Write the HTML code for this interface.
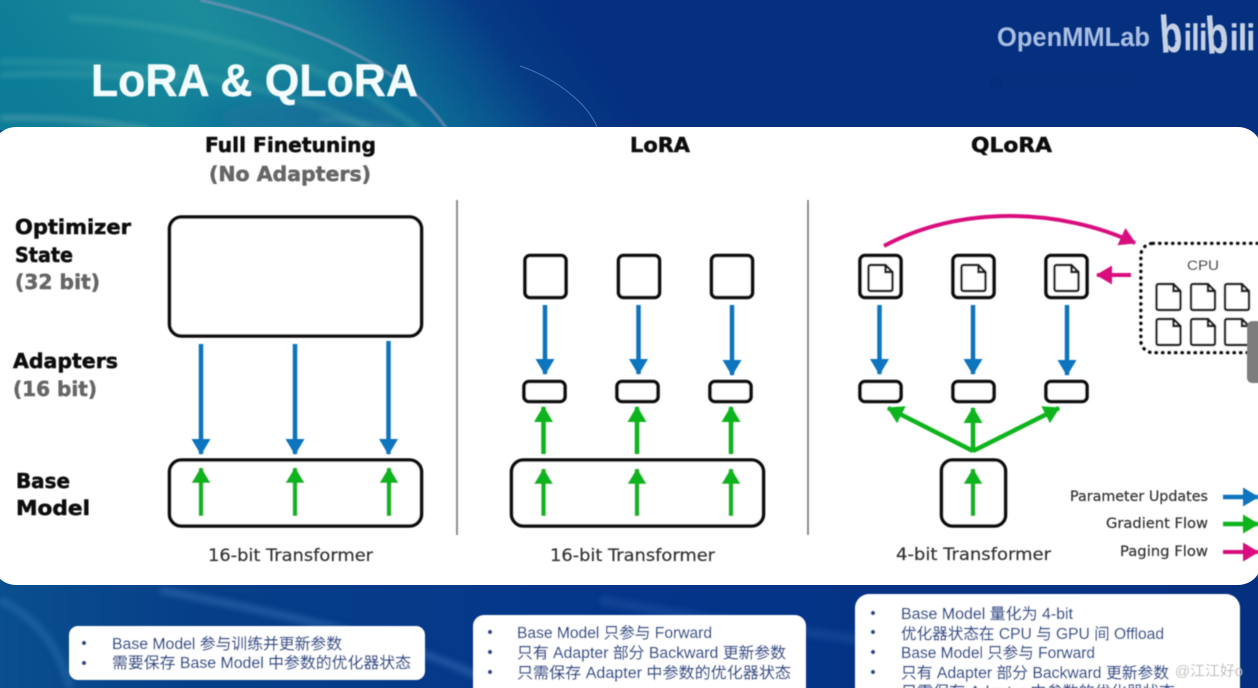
<!DOCTYPE html>
<html><head><meta charset="utf-8"><style>
html,body{margin:0;padding:0;width:1258px;height:688px;overflow:hidden;background:#04307f}
svg{display:block}
text{font-family:"Liberation Sans","Noto Sans CJK SC",sans-serif}
.h{font-family:"DejaVu Sans",sans-serif;font-weight:700;stroke-width:.5px}
.k{fill:#111;stroke:#111}
.g{fill:#666;stroke:#666}
.l{font-family:"DejaVu Sans",sans-serif;fill:#333;stroke:#333;stroke-width:.2px}
.b{fill:#23468a;stroke:#23468a;stroke-width:.15px;font-size:15.5px}
</style></head><body>
<svg width="1258" height="688" viewBox="0 0 1258 688" xmlns="http://www.w3.org/2000/svg">
<defs>
<linearGradient id="bg" gradientUnits="userSpaceOnUse" x1="0" y1="60" x2="500" y2="-300">
<stop offset="0" stop-color="#0c7c98"/><stop offset=".3" stop-color="#1c8c9b"/><stop offset=".47" stop-color="#137a97"/><stop offset=".58" stop-color="#0a5a90"/><stop offset=".68" stop-color="#063a85"/><stop offset=".78" stop-color="#04307f"/><stop offset="1" stop-color="#04307f"/>
</linearGradient>
<linearGradient id="bg2" x1="0" y1="0" x2="1" y2="0">
<stop offset="0" stop-color="#0a4f8f"/><stop offset=".15" stop-color="#063f88"/><stop offset=".5" stop-color="#04358a"/><stop offset="1" stop-color="#04307f"/>
</linearGradient>
<filter id="s" x="-20%" y="-20%" width="140%" height="140%"><feGaussianBlur stdDeviation="3"/></filter>
<filter id="t" x="-5%" y="-5%" width="110%" height="110%"><feGaussianBlur stdDeviation="0.55"/></filter>
<filter id="w" x="-20%" y="-20%" width="140%" height="140%"><feGaussianBlur stdDeviation="1.1"/></filter>
<filter id="d" x="-40%" y="-80%" width="180%" height="260%"><feGaussianBlur stdDeviation="22"/></filter>
<marker id="mb" markerUnits="userSpaceOnUse" markerWidth="18" markerHeight="20" refX="15" refY="10" orient="auto"><path d="M0 0.500L16 10L0 19.500Z" fill="#0f74bd"/></marker>
<marker id="mg" markerUnits="userSpaceOnUse" markerWidth="18" markerHeight="20" refX="15" refY="10" orient="auto"><path d="M0 0.500L16 10L0 19.500Z" fill="#0ab41f"/></marker>
<marker id="mp" markerUnits="userSpaceOnUse" markerWidth="18" markerHeight="20" refX="15" refY="10" orient="auto"><path d="M0 0.500L16 10L0 19.500Z" fill="#d9107e"/></marker>
<path id="doc" d="M2 0H17L24 7V24Q24 26 22 26H2Q0 26 0 24V2Q0 0 2 0ZM17 0V7H24" fill="#fff" stroke="#1c1c1c" stroke-width="2.400"/>
</defs>

<rect width="1258" height="130" fill="url(#bg)"/>
<rect y="130" width="1258" height="558" fill="url(#bg2)"/>
<ellipse cx="310" cy="118" rx="130" ry="20" fill="#0b5c98" opacity=".8" filter="url(#d)"/>
<g filter="url(#s)" fill="none">
<path d="M70 18C200 25 330 60 420 130" stroke="#4fb0ab" stroke-width="6" opacity=".35"/>
<path d="M0 62C120 60 260 75 370 128" stroke="#55b5b0" stroke-width="6" opacity=".3"/>
<path d="M0 75C60 72 120 74 180 82" stroke="#70c0bc" stroke-width="5" opacity=".3"/>
<path d="M0 118C60 117 110 122 150 130" stroke="#8cb8b8" stroke-width="4" opacity=".5"/>
<path d="M320 120C340 118 370 124 400 130" stroke="#7cc0c0" stroke-width="3" opacity=".35"/>
<path d="M0 600C40 620 60 650 70 688" stroke="#3f7fc0" stroke-width="8" opacity=".35"/>
<path d="M160 590C260 610 420 640 500 688" stroke="#4f86c8" stroke-width="8" opacity=".35"/>
<path d="M600 600C700 620 800 630 860 640" stroke="#3f76c0" stroke-width="10" opacity=".2"/>
</g>
<g filter="url(#w)" fill="none">
<path d="M200 0C290 20 400 60 446 128" stroke="#a89cc8" stroke-width="2.500" opacity=".6"/>
</g>
<path d="M520 66C550 76 586 100 597 127" fill="none" stroke="#6d9bd0" stroke-width="1" opacity=".6"/>
<rect x="-8" y="127" width="1270" height="458" rx="24" fill="#fff"/>
<rect x="990" y="77" width="12" height="11" fill="#062a78" opacity=".35"/>
<rect x="1010" y="77" width="125" height="10" fill="#062a78" opacity=".25"/>

<g filter="url(#t)">
<text x="91" y="96" font-size="45" font-weight="700" fill="#f2fcfd" stroke="#f2fcfd" stroke-width=".4" textLength="327" lengthAdjust="spacingAndGlyphs">LoRA &amp; QLoRA</text>
<text x="997" y="46" font-size="27" font-weight="700" fill="#a9bee2" textLength="153" lengthAdjust="spacingAndGlyphs">OpenMMLab</text>
<g font-weight="700" fill="#c6d1e4" stroke="#c6d1e4" stroke-width=".6">
<text x="1161" y="52" font-size="52" textLength="22" lengthAdjust="spacingAndGlyphs" transform="rotate(-4 1170 50)">b</text>
<text x="1184" y="50" font-size="36" textLength="23" lengthAdjust="spacingAndGlyphs">ili</text>
<text x="1207" y="53" font-size="52" textLength="22" lengthAdjust="spacingAndGlyphs" transform="rotate(-4 1216 50)">b</text>
<text x="1230" y="50" font-size="36" textLength="25" lengthAdjust="spacingAndGlyphs">ili</text>
</g>
<path d="M1167 35L1177 41L1168 46Z" fill="#04307f"/>
<path d="M1213 35L1223 41L1214 46Z" fill="#04307f"/>

<text class="h k" x="205" y="152" font-size="20" textLength="171" lengthAdjust="spacingAndGlyphs">Full Finetuning</text>
<text class="h g" x="209" y="181" font-size="20" textLength="162" lengthAdjust="spacingAndGlyphs">(No Adapters)</text>
<text class="h k" x="630" y="152" font-size="20" textLength="60" lengthAdjust="spacingAndGlyphs">LoRA</text>
<text class="h k" x="971" y="152" font-size="20" textLength="81" lengthAdjust="spacingAndGlyphs">QLoRA</text>

<text class="h k" x="15" y="234" font-size="20" textLength="116" lengthAdjust="spacingAndGlyphs">Optimizer</text>
<text class="h k" x="15" y="262" font-size="20" textLength="58" lengthAdjust="spacingAndGlyphs">State</text>
<text class="h g" x="15" y="289" font-size="20" textLength="85" lengthAdjust="spacingAndGlyphs">(32 bit)</text>
<text class="h k" x="13" y="368" font-size="20" textLength="105" lengthAdjust="spacingAndGlyphs">Adapters</text>
<text class="h g" x="13" y="396" font-size="20" textLength="84" lengthAdjust="spacingAndGlyphs">(16 bit)</text>
<text class="h k" x="16" y="488" font-size="20" textLength="54" lengthAdjust="spacingAndGlyphs">Base</text>
<text class="h k" x="16" y="515" font-size="20" textLength="74" lengthAdjust="spacingAndGlyphs">Model</text>

<text class="l" x="208" y="561" font-size="17" textLength="165" lengthAdjust="spacingAndGlyphs">16-bit Transformer</text>
<text class="l" x="550" y="561" font-size="17" textLength="165" lengthAdjust="spacingAndGlyphs">16-bit Transformer</text>
<text class="l" x="896" y="560" font-size="17" textLength="155" lengthAdjust="spacingAndGlyphs">4-bit Transformer</text>

<g stroke="#8f8f8f" stroke-width="2"><line x1="457" y1="200" x2="457" y2="535"/><line x1="808" y1="200" x2="808" y2="535"/></g>

<g fill="#fff" stroke="#0c0c0c" stroke-width="3.600">
<rect x="169.500" y="217" width="252" height="119" rx="12"/>
<rect x="169.500" y="460" width="252" height="66" rx="12"/>
<rect x="525" y="255.500" width="41" height="42" rx="5"/>
<rect x="618.500" y="255.500" width="41" height="42" rx="5"/>
<rect x="711.500" y="255.500" width="41" height="42" rx="5"/>
<rect x="524" y="381.500" width="41" height="20" rx="5"/>
<rect x="617" y="381.500" width="41" height="20" rx="5"/>
<rect x="710" y="381.500" width="41" height="20" rx="5"/>
<rect x="511.500" y="460" width="252" height="66" rx="12"/>
<rect x="860" y="255.500" width="41" height="42" rx="5"/>
<rect x="953" y="255.500" width="41" height="42" rx="5"/>
<rect x="1046" y="255.500" width="41" height="42" rx="5"/>
<rect x="860" y="381.500" width="41" height="20" rx="5"/>
<rect x="953" y="381.500" width="41" height="20" rx="5"/>
<rect x="1046" y="381.500" width="41" height="20" rx="5"/>
<rect x="941.500" y="460" width="64" height="66" rx="11"/>
</g>
<use href="#doc" x="868.500" y="265"/><use href="#doc" x="961.500" y="265"/><use href="#doc" x="1054.500" y="265"/>

<g stroke="#0f74bd" stroke-width="4.500" fill="none">
<line x1="201" y1="344" x2="201" y2="454" marker-end="url(#mb)"/>
<line x1="295" y1="344" x2="295" y2="454" marker-end="url(#mb)"/>
<line x1="388.500" y1="341" x2="388.500" y2="454" marker-end="url(#mb)"/>
<line x1="545" y1="305" x2="545" y2="374" marker-end="url(#mb)"/>
<line x1="638.500" y1="305" x2="638.500" y2="374" marker-end="url(#mb)"/>
<line x1="732" y1="305" x2="732" y2="375" marker-end="url(#mb)"/>
<line x1="879.500" y1="305" x2="879.500" y2="374" marker-end="url(#mb)"/>
<line x1="973" y1="305" x2="973" y2="374" marker-end="url(#mb)"/>
<line x1="1067" y1="305" x2="1067" y2="375" marker-end="url(#mb)"/>
<line x1="1223" y1="497" x2="1258" y2="497" marker-end="url(#mb)"/>
</g>
<g stroke="#0ab41f" stroke-width="4.500" fill="none">
<line x1="201" y1="516" x2="201" y2="468" marker-end="url(#mg)"/>
<line x1="295" y1="516" x2="295" y2="468" marker-end="url(#mg)"/>
<line x1="389" y1="516" x2="389" y2="468" marker-end="url(#mg)"/>
<line x1="543.500" y1="454" x2="543.500" y2="407" marker-end="url(#mg)"/>
<line x1="637" y1="454" x2="637" y2="407" marker-end="url(#mg)"/>
<line x1="731" y1="454" x2="731" y2="407" marker-end="url(#mg)"/>
<line x1="543.500" y1="516" x2="543.500" y2="469" marker-end="url(#mg)"/>
<line x1="637" y1="516" x2="637" y2="469" marker-end="url(#mg)"/>
<line x1="731" y1="516" x2="731" y2="469" marker-end="url(#mg)"/>
<line x1="973" y1="516" x2="973" y2="469" marker-end="url(#mg)"/>
<line x1="973" y1="452" x2="973" y2="408" marker-end="url(#mg)"/>
<line x1="973" y1="451" x2="888" y2="408" marker-end="url(#mg)"/>
<line x1="973" y1="451" x2="1059" y2="408" marker-end="url(#mg)"/>
<line x1="1223" y1="524" x2="1258" y2="524" marker-end="url(#mg)"/>
</g>
<g stroke="#d9107e" stroke-width="4" fill="none">
<path d="M884 246C960 205 1060 208 1135 243" marker-end="url(#mp)"/>
<line x1="1131" y1="275" x2="1097" y2="275" marker-end="url(#mp)"/>
<line x1="1223" y1="552" x2="1258" y2="552" marker-end="url(#mp)"/>
</g>

<rect x="1141" y="243.500" width="140" height="109" rx="12" fill="#fff" stroke="#111" stroke-width="3.600" stroke-dasharray="0.500 6" stroke-linecap="round"/>
<text x="1187" y="270" font-size="14" fill="#444" stroke="#444" stroke-width=".2" textLength="32" lengthAdjust="spacingAndGlyphs">CPU</text>
<use href="#doc" x="1156.500" y="284"/><use href="#doc" x="1191" y="284"/><use href="#doc" x="1225" y="284"/>
<use href="#doc" x="1156.500" y="319"/><use href="#doc" x="1191" y="319"/><use href="#doc" x="1225" y="319"/>
<rect x="1247" y="321" width="20" height="62" rx="5" fill="#7d7d7d"/>

<text class="l" x="1070" y="501" font-size="14" textLength="138" lengthAdjust="spacingAndGlyphs">Parameter Updates</text>
<text class="l" x="1106" y="528" font-size="14" textLength="102" lengthAdjust="spacingAndGlyphs">Gradient Flow</text>
<text class="l" x="1120" y="556" font-size="14" textLength="88" lengthAdjust="spacingAndGlyphs">Paging Flow</text>

<rect x="69" y="626" width="356" height="54" rx="9" fill="#fff"/>
<rect x="473" y="615" width="333" height="90" rx="11" fill="#fff"/>
<rect x="855" y="594" width="385" height="110" rx="14" fill="#fff"/>
<g fill="#23468a">
<circle cx="84" cy="643" r="2.200"/><circle cx="84" cy="663" r="2.200"/>
<circle cx="490" cy="632" r="2.200"/><circle cx="490" cy="652" r="2.200"/><circle cx="490" cy="672" r="2.200"/>
<circle cx="873" cy="613" r="2.200"/><circle cx="873" cy="632" r="2.200"/><circle cx="873" cy="652" r="2.200"/><circle cx="873" cy="672" r="2.200"/>
</g>
<text class="b" x="112" y="649" textLength="230" lengthAdjust="spacingAndGlyphs">Base Model 参与训练并更新参数</text>
<text class="b" x="112" y="668" textLength="299" lengthAdjust="spacingAndGlyphs">需要保存 Base Model 中参数的优化器状态</text>
<text class="b" x="517" y="638" textLength="195" lengthAdjust="spacingAndGlyphs">Base Model 只参与 Forward</text>
<text class="b" x="517" y="658" textLength="269" lengthAdjust="spacingAndGlyphs">只有 Adapter 部分 Backward 更新参数</text>
<text class="b" x="517" y="678" textLength="274" lengthAdjust="spacingAndGlyphs">只需保存 Adapter 中参数的优化器状态</text>
<text class="b" x="901" y="619" textLength="172" lengthAdjust="spacingAndGlyphs">Base Model 量化为 4-bit</text>
<text class="b" x="901" y="639" textLength="263" lengthAdjust="spacingAndGlyphs">优化器状态在 CPU 与 GPU 间 Offload</text>
<text class="b" x="901" y="658" textLength="194" lengthAdjust="spacingAndGlyphs">Base Model 只参与 Forward</text>
<text class="b" x="901" y="678" textLength="268" lengthAdjust="spacingAndGlyphs">只有 Adapter 部分 Backward 更新参数</text>
<text class="b" x="901" y="697" textLength="274" lengthAdjust="spacingAndGlyphs">只需保存 Adapter 中参数的优化器状态</text>
<text x="1175" y="676" font-size="14.500" fill="#bdbdbd" textLength="68" lengthAdjust="spacingAndGlyphs">@江江好o</text>
</g>
</svg>
</body></html>
